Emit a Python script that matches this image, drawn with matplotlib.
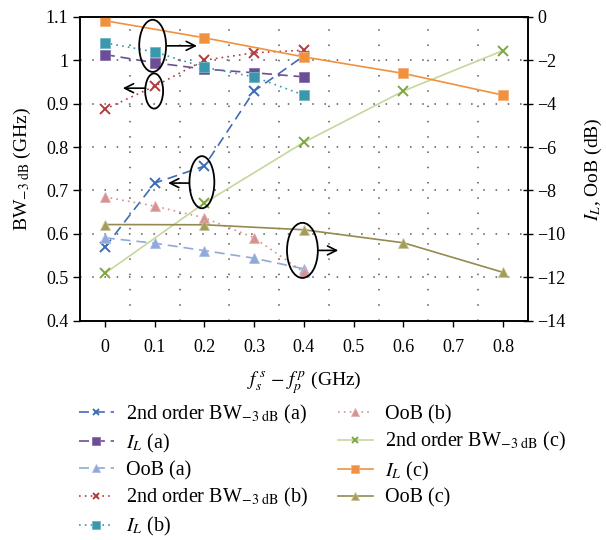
import matplotlib
matplotlib.use("Agg")
import matplotlib.pyplot as plt
from matplotlib.patches import Ellipse

plt.rcParams['font.family'] = ['Liberation Serif', 'DejaVu Serif']
plt.rcParams['mathtext.fontset'] = 'stix'

# ---------------- data ----------------
x_ab = [0.0, 0.1, 0.2, 0.3, 0.4]
x_c = [0.0, 0.2, 0.4, 0.6, 0.8]

bw_a = [0.569, 0.717, 0.756, 0.929, 1.010]          # GHz (left axis)
il_a = [-1.74, -2.12, -2.41, -2.58, -2.77]          # dB (right axis)
oob_a = [-10.18, -10.43, -10.77, -11.12, -11.61]    # dB

bw_b = [0.887, 0.940, 1.000, 1.017, 1.023]
il_b = [-1.20, -1.62, -2.33, -2.77, -3.61]
oob_b = [-8.30, -8.72, -9.26, -10.18, -11.77]

bw_c = [0.509, 0.671, 0.811, 0.929, 1.022]
il_c = [-0.18, -0.97, -1.85, -2.61, -3.61]
oob_c = [-9.57, -9.58, -9.81, -10.41, -11.77]

x_ticks = [0, 0.1, 0.2, 0.3, 0.4, 0.5, 0.6, 0.7, 0.8]
x_tick_labels = ['0', '0.1', '0.2', '0.3', '0.4', '0.5', '0.6', '0.7', '0.8']
left_ticks = [0.4, 0.5, 0.6, 0.7, 0.8, 0.9, 1.0, 1.1]
left_tick_labels = ['0.4', '0.5', '0.6', '0.7', '0.8', '0.9', '1', '1.1']
right_ticks = [-14, -12, -10, -8, -6, -4, -2, 0]

sub = r'$_{-3\ \mathrm{dB}}$'
labels = ['2nd order BW' + sub + ' (a)', r'$I_L$ (a)', 'OoB (a)',
          '2nd order BW' + sub + ' (b)', r'$I_L$ (b)', 'OoB (b)',
          '2nd order BW' + sub + ' (c)', r'$I_L$ (c)', 'OoB (c)']

# ---------------- figure ----------------
fig = plt.figure(figsize=(6.06, 5.40), dpi=100)
ax = fig.add_axes([0.132, 0.406, 0.739, 0.563])
ax2 = ax.twinx()

ax.set_xlim(-0.05, 0.85)
ax.set_ylim(0.4, 1.1)
ax2.set_ylim(-14, 0)

# grid
gcol = '#555555'
for gx in [0.05, 0.15, 0.25, 0.35, 0.45, 0.55, 0.65, 0.75]:
    ax.axvline(gx, color=gcol, lw=1.1, ls=(0, (1, 9)), zorder=0)
for gy in [0.5, 0.6, 0.7, 0.8, 0.9, 1.0]:
    ax.axhline(gy, color=gcol, lw=1.1, ls=(0, (1, 7)), zorder=0)

dash = (0, (6, 3.5))
dot = (0, (1, 2.5))
lw = 1.2
ms = 7.3

h = []
h += ax.plot(x_ab, bw_a, color='#3E6DB5', ls=dash, lw=lw, marker='x', ms=6.5, mew=1.4)
h += ax2.plot(x_ab, il_a, color='#6B4E96', ls=dash, lw=lw, marker='s', ms=ms, mec='#8a73ad', mew=0.6)
h += ax2.plot(x_ab, oob_a, color='#8FA9D8', ls=dash, lw=lw, marker='^', ms=ms, mec='#a9bde3', mew=0.6)
h += ax.plot(x_ab, bw_b, color='#B23B3B', ls=dot, lw=lw, marker='x', ms=6.5, mew=1.4)
h += ax2.plot(x_ab, il_b, color='#3A97AC', ls=dot, lw=lw, marker='s', ms=ms, mec='#6fb7c6', mew=0.6)
h += ax2.plot(x_ab, oob_b, color='#D69190', ls=dot, lw=lw, marker='^', ms=ms, mec='#e3b0b0', mew=0.6)
h += ax.plot(x_c, bw_c, color='#C4D89E', ls='-', lw=lw, marker='x', ms=6.5, mew=1.4, mec='#7FA640')
h += ax2.plot(x_c, il_c, color='#F0913F', ls='-', lw=lw, marker='s', ms=ms, mec='#f4b07a', mew=0.6)
h += ax2.plot(x_c, oob_c, color='#948A4F', ls='-', lw=lw, marker='^', ms=ms, mfc='#A39C5A', mec='#c9c49a', mew=0.6)

# annotations (ellipses + arrows), in left-axis data coordinates
ells = [((0.096, 1.033), 0.054, 0.120), ((0.099, 0.929), 0.036, 0.081),
        ((0.195, 0.719), 0.050, 0.120), ((0.397, 0.562), 0.062, 0.127)]
for c, w, hh in ells:
    ax2.add_patch(Ellipse(c, w, hh, transform=ax.transData, fill=False,
                          ec='black', lw=1.3, zorder=10))
arrows = [((0.1247, 1.033), (0.185, 1.033)), ((0.082, 0.9355), (0.036, 0.9355)),
          ((0.169, 0.717), (0.127, 0.717)), ((0.4286, 0.562), (0.469, 0.562))]
for s, e in arrows:
    ax2.annotate('', xy=e, xytext=s, xycoords=ax.transData, textcoords=ax.transData,
                 arrowprops=dict(arrowstyle='->', color='black', lw=1.2,
                                 mutation_scale=16, shrinkA=0, shrinkB=0), zorder=10)

# ticks and labels
fs = 13
ax.set_xticks(x_ticks)
ax.set_xticklabels(x_tick_labels, fontsize=fs)
ax.set_yticks(left_ticks)
ax.set_yticklabels(left_tick_labels, fontsize=fs)
ax2.set_yticks(right_ticks)
ax2.tick_params(axis='y', labelsize=fs, direction='inout', length=7, width=1.0)
ax.tick_params(axis='y', direction='out', length=5, width=1.0)
ax.tick_params(axis='x', direction='out', length=4, width=1.0, pad=9)

for sp in ['left', 'right', 'bottom', 'top']:
    ax.spines[sp].set_linewidth(1.2)
    ax2.spines[sp].set_linewidth(1.2)

ax.set_xlabel(r'$f_s^{\,s}$ $-$ $f_p^{\,p}$ (GHz)', fontsize=14, labelpad=10)
ax.set_ylabel('BW' + sub + ' (GHz)', fontsize=14, labelpad=9)
ax2.set_ylabel(r'$I_L$, OoB (dB)', fontsize=14, labelpad=12)

fig.legend(h, labels, loc='upper left', bbox_to_anchor=(0.13, 0.254), ncol=2,
           frameon=False, fontsize=14.5, handlelength=1.75, handletextpad=0.6,
           columnspacing=1.45, labelspacing=0.3, markerscale=0.7,
           borderaxespad=0, borderpad=0)

fig.savefig('out.png', dpi=100)
